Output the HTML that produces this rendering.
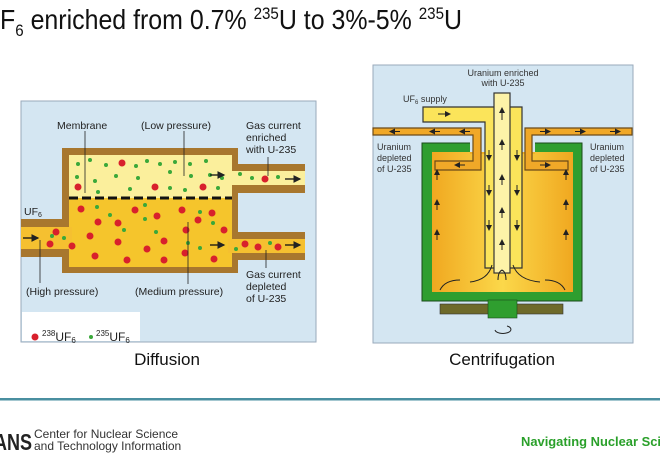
<!DOCTYPE html>
<html><head><meta charset="utf-8"><style>
html,body{margin:0;padding:0;background:#fff;width:660px;height:470px;overflow:hidden}
svg{display:block}
text{font-family:"Liberation Sans",sans-serif}
</style></head><body>
<svg width="660" height="470" viewBox="0 0 660 470" xmlns="http://www.w3.org/2000/svg">
<defs>
<linearGradient id="og" x1="0" x2="1"><stop offset="0" stop-color="#f0a820"/><stop offset="0.5" stop-color="#fbd84a"/><stop offset="1" stop-color="#f0a820"/></linearGradient>
<marker id="ah" markerWidth="6" markerHeight="6" refX="5" refY="3" orient="auto"><path d="M0,0L6,3L0,6z" fill="#222"/></marker>
</defs>
<text x="0" y="29" font-size="28" textLength="462" lengthAdjust="spacingAndGlyphs" fill="#111">F<tspan font-size="17" dy="7">6</tspan><tspan dy="-7"> enriched from 0.7% </tspan><tspan font-size="17" dy="-10">235</tspan><tspan dy="10">U to 3%-5% </tspan><tspan font-size="17" dy="-10">235</tspan><tspan dy="10">U</tspan></text>

<rect x="21" y="101" width="295" height="241" fill="#d4e6f2" stroke="#9ab" stroke-width="1"/>
<rect x="22" y="312" width="118" height="29" fill="#fff"/>
<rect x="21" y="219" width="45" height="38" fill="#a8772e"/>
<rect x="21" y="227" width="50" height="22" fill="#f5c030"/>
<rect x="234" y="164" width="71" height="29" fill="#a8772e"/>
<rect x="228" y="171" width="77" height="14" fill="#fbef9c"/>
<rect x="234" y="232" width="71" height="28" fill="#a8772e"/>
<rect x="228" y="239" width="77" height="14" fill="#f5c030"/>
<rect x="62" y="148" width="176" height="125" fill="#a8772e"/>
<rect x="69" y="155" width="163" height="43" fill="#fbef9c"/>
<rect x="69" y="198" width="163" height="69" fill="#f5c52c"/>
<rect x="62" y="227" width="10" height="22" fill="#f5c030"/>
<rect x="228" y="171" width="10" height="14" fill="#fbef9c"/>
<rect x="228" y="239" width="10" height="14" fill="#f5c030"/>
<line x1="69" y1="198" x2="232" y2="198" stroke="#111" stroke-width="3" stroke-dasharray="9,4"/>
<g fill="#d8202c">
<circle cx="122" cy="163" r="3.5"/><circle cx="78" cy="187" r="3.5"/><circle cx="155" cy="187" r="3.5"/><circle cx="203" cy="187" r="3.5"/><circle cx="265" cy="179" r="3.5"/>
<circle cx="56" cy="232" r="3.5"/><circle cx="50" cy="244" r="3.5"/><circle cx="72" cy="246" r="3.5"/>
<circle cx="81" cy="209" r="3.5"/><circle cx="98" cy="222" r="3.5"/><circle cx="90" cy="236" r="3.5"/><circle cx="95" cy="256" r="3.5"/>
<circle cx="118" cy="223" r="3.5"/><circle cx="118" cy="242" r="3.5"/><circle cx="127" cy="260" r="3.5"/>
<circle cx="135" cy="210" r="3.5"/><circle cx="147" cy="249" r="3.5"/><circle cx="157" cy="216" r="3.5"/><circle cx="164" cy="241" r="3.5"/><circle cx="164" cy="260" r="3.5"/>
<circle cx="182" cy="210" r="3.5"/><circle cx="198" cy="220" r="3.5"/><circle cx="186" cy="230" r="3.5"/><circle cx="185" cy="253" r="3.5"/><circle cx="212" cy="213" r="3.5"/><circle cx="224" cy="230" r="3.5"/><circle cx="214" cy="259" r="3.5"/>
<circle cx="245" cy="244" r="3.5"/><circle cx="258" cy="247" r="3.5"/><circle cx="278" cy="247" r="3.5"/>
<circle cx="35" cy="337" r="3.5"/>
</g>
<g fill="#3aa83a">
<circle cx="78" cy="164" r="2"/><circle cx="90" cy="160" r="2"/><circle cx="106" cy="165" r="2"/><circle cx="136" cy="166" r="2"/><circle cx="147" cy="161" r="2"/><circle cx="160" cy="164" r="2"/><circle cx="175" cy="162" r="2"/><circle cx="190" cy="164" r="2"/><circle cx="206" cy="161" r="2"/>
<circle cx="77" cy="177" r="2"/><circle cx="95" cy="181" r="2"/><circle cx="116" cy="176" r="2"/><circle cx="138" cy="178" r="2"/><circle cx="170" cy="172" r="2"/><circle cx="191" cy="176" r="2"/><circle cx="210" cy="175" r="2"/><circle cx="222" cy="178" r="2"/>
<circle cx="98" cy="192" r="2"/><circle cx="130" cy="189" r="2"/><circle cx="170" cy="188" r="2"/><circle cx="185" cy="190" r="2"/><circle cx="218" cy="188" r="2"/><circle cx="240" cy="174" r="2"/><circle cx="252" cy="178" r="2"/><circle cx="278" cy="177" r="2"/>
<circle cx="52" cy="236" r="2"/><circle cx="64" cy="238" r="2"/><circle cx="97" cy="207" r="2"/><circle cx="110" cy="215" r="2"/><circle cx="124" cy="230" r="2"/><circle cx="145" cy="205" r="2"/><circle cx="145" cy="219" r="2"/><circle cx="156" cy="232" r="2"/><circle cx="188" cy="243" r="2"/><circle cx="200" cy="212" r="2"/><circle cx="213" cy="223" r="2"/><circle cx="200" cy="248" r="2"/><circle cx="236" cy="249" r="2"/><circle cx="270" cy="243" r="2"/>
<circle cx="91" cy="337" r="2"/>
</g>
<g stroke="#111" stroke-width="1.3" marker-end="url(#ah)">
<line x1="23" y1="238" x2="38" y2="238"/><line x1="210" y1="175" x2="224" y2="175"/><line x1="285" y1="179" x2="300" y2="179"/>
<line x1="210" y1="245" x2="224" y2="245"/><line x1="285" y1="245" x2="300" y2="245"/>
</g>
<g stroke="#222" stroke-width="0.8">
<line x1="85" y1="131" x2="85" y2="193"/><line x1="184" y1="131" x2="184" y2="176"/><line x1="268" y1="157" x2="268" y2="176"/>
<line x1="40" y1="240" x2="40" y2="283"/><line x1="188" y1="222" x2="188" y2="284"/><line x1="266" y1="250" x2="266" y2="268"/>
</g>
<g font-size="10.5" fill="#222">
<text x="57" y="129">Membrane</text><text x="141" y="129">(Low pressure)</text>
<text x="246" y="129">Gas current</text><text x="246" y="141">enriched</text><text x="246" y="153">with U-235</text>
<text x="24" y="215">UF<tspan font-size="7" dy="2">6</tspan></text>
<text x="26" y="295">(High pressure)</text><text x="135" y="295">(Medium pressure)</text>
<text x="246" y="278">Gas current</text><text x="246" y="290">depleted</text><text x="246" y="302">of U-235</text>
<text x="42" y="341" font-size="12"><tspan font-size="8" dy="-5">238</tspan><tspan dy="5">UF</tspan><tspan font-size="8" dy="2">6</tspan></text>
<text x="96" y="341" font-size="12"><tspan font-size="8" dy="-5">235</tspan><tspan dy="5">UF</tspan><tspan font-size="8" dy="2">6</tspan></text>
</g>
<text x="167" y="365" font-size="17" text-anchor="middle" fill="#111">Diffusion</text>

<rect x="373" y="65" width="260" height="278" fill="#d4e6f2" stroke="#9ab" stroke-width="1"/>
<rect x="422" y="143" width="160" height="158" fill="#2f9e2f" stroke="#1a4a1a" stroke-width="1"/>
<rect x="432" y="152" width="141" height="140" fill="url(#og)"/>
<rect x="470" y="141" width="65" height="12" fill="#d4e6f2"/>
<rect x="470" y="152" width="65" height="2" fill="#f0b028"/>
<rect x="440" y="304" width="123" height="10" fill="#6e6a2a" stroke="#333" stroke-width="0.6"/>
<rect x="488" y="300" width="29" height="18" fill="#2f9e2f" stroke="#1a4a1a" stroke-width="0.6"/>
<path d="M373 128H481V170H435V161H473V135H373Z" fill="#f0a828" stroke="#6b4a18" stroke-width="1.2"/>
<path d="M632 128H525V170H568V161H532V135H632Z" fill="#f0a828" stroke="#6b4a18" stroke-width="1.2"/>
<path d="M423 107H522V268H485V122H423Z" fill="#fbe45a" stroke="#333" stroke-width="1.2"/>
<rect x="494" y="93" width="16" height="180" fill="#fdf3a8" stroke="#333" stroke-width="1.2"/>
<g stroke="#222" stroke-width="1" marker-end="url(#ah)">
<line x1="502" y1="120" x2="502" y2="108"/><line x1="502" y1="150" x2="502" y2="140"/><line x1="502" y1="185" x2="502" y2="175"/><line x1="502" y1="218" x2="502" y2="208"/><line x1="502" y1="250" x2="502" y2="240"/>
<line x1="438" y1="114" x2="450" y2="114"/>
<line x1="489" y1="150" x2="489" y2="160"/><line x1="489" y1="185" x2="489" y2="195"/><line x1="489" y1="220" x2="489" y2="230"/>
<line x1="517" y1="150" x2="517" y2="160"/><line x1="517" y1="185" x2="517" y2="195"/><line x1="517" y1="220" x2="517" y2="230"/>
<line x1="437" y1="240" x2="437" y2="230"/><line x1="437" y1="210" x2="437" y2="200"/><line x1="437" y1="180" x2="437" y2="170"/>
<line x1="566" y1="240" x2="566" y2="230"/><line x1="566" y1="210" x2="566" y2="200"/><line x1="566" y1="180" x2="566" y2="170"/>
<line x1="470" y1="131.5" x2="460" y2="131.5"/><line x1="440" y1="131.5" x2="430" y2="131.5"/><line x1="400" y1="131.5" x2="390" y2="131.5"/>
<line x1="540" y1="131.5" x2="550" y2="131.5"/><line x1="575" y1="131.5" x2="585" y2="131.5"/><line x1="610" y1="131.5" x2="620" y2="131.5"/>
<line x1="465" y1="165" x2="455" y2="165"/><line x1="540" y1="165" x2="550" y2="165"/>
</g>
<g stroke="#222" stroke-width="1" fill="none">
<path d="M440 290Q445 280 460 280"/><path d="M470 282Q488 280 492 265"/><path d="M513 265Q518 280 540 282"/><path d="M565 290Q560 280 545 280"/>
<path d="M498 280Q498 272 502 270"/><path d="M506 280Q506 272 502 270"/>
<path d="M495 330a8 4 0 1 0 12 -4"/>
</g>
<g font-size="9" fill="#333">
<text x="503" y="76" text-anchor="middle">Uranium enriched</text><text x="503" y="86" text-anchor="middle">with U-235</text>
<text x="403" y="102">UF<tspan font-size="6" dy="2">6</tspan><tspan dy="-2"> supply</tspan></text>
<text x="377" y="150">Uranium</text><text x="377" y="161">depleted</text><text x="377" y="172">of U-235</text>
<text x="590" y="150">Uranium</text><text x="590" y="161">depleted</text><text x="590" y="172">of U-235</text>
</g>
<text x="502" y="365" font-size="17" text-anchor="middle" fill="#111">Centrifugation</text>

<rect x="0" y="398" width="660" height="2.5" fill="#4a8fa0"/>
<text x="-6" y="450" font-size="23" font-weight="bold" fill="#222" textLength="38" lengthAdjust="spacingAndGlyphs">ANS</text>
<text x="34" y="438" font-size="12" fill="#333">Center for Nuclear Science</text>
<text x="34" y="450" font-size="12" fill="#333">and Technology Information</text>
<text x="521" y="446" font-size="12.5" font-weight="bold" fill="#2aa02a" textLength="140" lengthAdjust="spacingAndGlyphs">Navigating Nuclear Sci</text>
</svg>
</body></html>
